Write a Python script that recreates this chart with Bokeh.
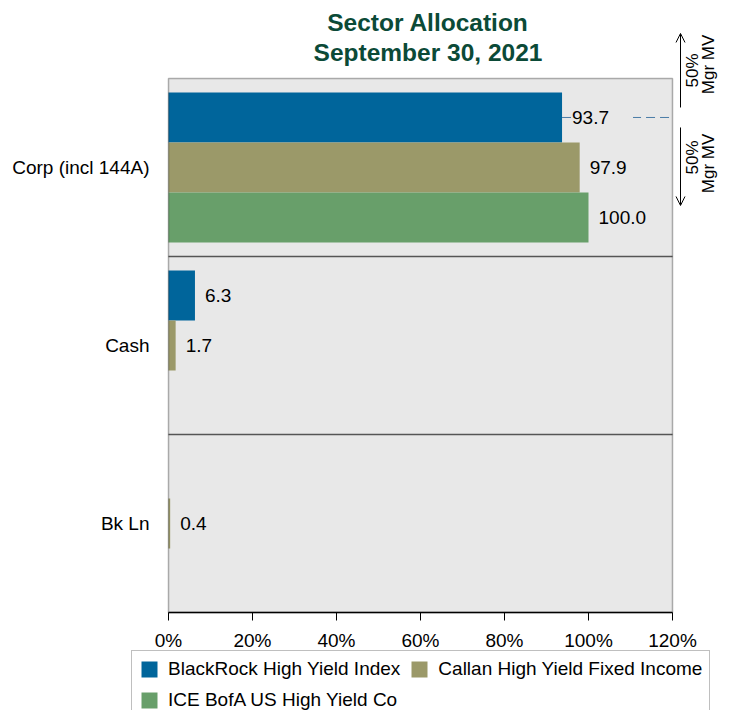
from bokeh.plotting import figure
from bokeh.models import (Range1d, FixedTicker, Legend, LegendItem, ColumnDataSource,
                          Arrow, OpenHead, Label, BoxAnnotation)
from bokeh.core.properties import value
from bokeh.embed import file_html
from bokeh.resources import INLINE
import math

# ---------------- data ----------------
categories = ["Corp (incl 144A)", "Cash", "Bk Ln"]
series_names = ["BlackRock High Yield Index",
                "Callan High Yield Fixed Income",
                "ICE BofA US High Yield Co"]
blackrock = [93.7, 6.3, 0.0]
callan = [97.9, 1.7, 0.4]
ice_bofa = [100.0, 0.0, 0.0]
series_colors = ["#00659b", "#9b9969", "#689f6a"]
x_ticks = [0, 20, 40, 60, 80, 100, 120]
x_tick_labels = ["0%", "20%", "40%", "60%", "80%", "100%", "120%"]
title_lines = ["Sector Allocation", "September 30, 2021"]
mgr_texts = ["50%", "Mgr MV"]

# ---------------- style / layout (canvas pixels) ----------------
FONT = "Liberation Sans"
FS = "19px"
TITLE_COLOR = "#0b4a37"
BG = "#e8e8e8"
W, H = 720, 710
L, R, TOP, BOT = 168, 672, 78, 612          # grey plot box on the canvas

n = len(categories)
XMIN, XMAX = x_ticks[0], x_ticks[-1]
xs = (XMAX - XMIN) / (R - L)                 # data units per pixel (x)
ys = n / (BOT - TOP)                         # data units per pixel (y)


def dx(px):
    return XMIN + (px - L) * xs


def dy(px):
    return (BOT - px) * ys


p = figure(width=W, height=H, output_backend="svg", toolbar_location=None,
           x_range=Range1d(dx(0), dx(W)), y_range=Range1d(dy(H), dy(0)),
           min_border=0, background_fill_color="white", border_fill_color="white")
p.outline_line_color = None
p.xgrid.grid_line_color = None
p.ygrid.grid_line_color = None

# grey plot area
p.add_layout(BoxAnnotation(left=XMIN, right=XMAX, bottom=0, top=n, fill_color=BG,
                           fill_alpha=1, line_color=None, level="underlay"))

# category positions (top to bottom)
cat_pos = [n - 0.5 - i for i in range(n)]
bar_h = 0.281
offsets = [bar_h, 0.0, -bar_h]
series = [blackrock, callan, ice_bofa]

# axes
p.xaxis.fixed_location = 0
p.xaxis.bounds = (XMIN, XMAX)
p.xaxis.ticker = FixedTicker(ticks=x_ticks)
p.xaxis.major_label_overrides = {t: l for t, l in zip(x_ticks, x_tick_labels)}
p.xaxis.minor_tick_line_color = None
p.xaxis.major_tick_out = 8
p.xaxis.major_tick_in = 0
p.xaxis.major_tick_line_color = "black"
p.xaxis.axis_line_color = "black"
p.xaxis.axis_line_width = 1.5
p.xaxis.major_label_text_font = FONT
p.xaxis.major_label_text_font_size = FS
p.xaxis.major_label_text_color = "black"
p.xaxis.major_label_standoff = 9

p.yaxis.fixed_location = XMIN
p.yaxis.bounds = (0, n)
p.yaxis.ticker = FixedTicker(ticks=cat_pos)
p.yaxis.major_label_overrides = {pos: c for pos, c in zip(cat_pos, categories)}
p.yaxis.major_tick_line_color = None
p.yaxis.minor_tick_line_color = None
p.yaxis.axis_line_color = None
p.yaxis.major_label_text_font = FONT
p.yaxis.major_label_text_font_size = FS
p.yaxis.major_label_text_color = "black"
p.yaxis.major_label_standoff = 13

# separators between categories
sep_y = [float(i) for i in range(1, n)]
p.segment(x0=[XMIN] * len(sep_y), x1=[XMAX] * len(sep_y), y0=sep_y, y1=sep_y,
          line_color="#555555", line_width=1.5)

# bars
renderers = []
for i, (vals, col) in enumerate(zip(series, series_colors)):
    s = ColumnDataSource(dict(y=[c + offsets[i] for c in cat_pos], v=vals))
    renderers.append(p.hbar(y="y", left=0, right="v", height=bar_h,
                            fill_color=col, line_color=None, source=s))

# dashed marker line at BlackRock corp level
y_mark = cat_pos[0] + offsets[0]
p.segment(x0=[blackrock[0]], x1=[XMAX], y0=[y_mark], y1=[y_mark],
          line_color="#4a7ca6", line_width=1, line_dash="9 5")

# value labels
for i, vals in enumerate(series):
    keep = [(c + offsets[i], v) for c, v in zip(cat_pos, vals) if v > 0]
    lsrc = ColumnDataSource(dict(y=[k[0] for k in keep], v=[k[1] for k in keep],
                                 t=[f"{k[1]:.1f}" for k in keep]))
    p.text(x="v", y="y", text="t", source=lsrc,
           x_offset=10, text_align="left", text_baseline="middle",
           text_font=value(FONT), text_font_size=FS, text_color="black",
           background_fill_color=BG,
           padding=dict(left=0, right=24, top=2, bottom=2))

# black outline of plot area (on top)
p.add_layout(BoxAnnotation(left=XMIN, right=XMAX, bottom=0, top=n, fill_color=None,
                           line_color="black", line_width=1.5, level="overlay"))

# arrows + "50% Mgr MV" texts to the right of the plot
ax = dx(R + 8)
p.add_layout(Arrow(end=OpenHead(size=9, line_width=1, line_color="black"),
                   x_start=ax, y_start=y_mark + 10 * ys, x_end=ax, y_end=y_mark + 84 * ys,
                   line_color="black", line_width=1))
p.add_layout(Arrow(end=OpenHead(size=9, line_width=1, line_color="black"),
                   x_start=ax, y_start=y_mark - 10 * ys, x_end=ax, y_end=y_mark - 88 * ys,
                   line_color="black", line_width=1))
for dys in [(47, 53), (-40, -46)]:
    for txt, xx, d in zip(mgr_texts, [R + 20, R + 36], dys):
        p.add_layout(Label(x=dx(xx), y=y_mark + d * ys, text=txt, angle=math.pi / 2,
                           text_align="center", text_baseline="middle",
                           text_font=FONT, text_font_size="17px", text_color="black"))

# title
for txt, base in zip(title_lines, [22, 52]):
    p.add_layout(Label(x=dx(427.5), y=dy(base), text=txt, text_align="center",
                       text_baseline="alphabetic", text_font=FONT, text_font_size="24.5px",
                       text_font_style="bold", text_color=TITLE_COLOR))

# legend
legend = Legend(items=[LegendItem(label=nm, renderers=[r]) for nm, r in zip(series_names, renderers)],
                location=(131, -9), orientation="horizontal", ncols=2,
                label_text_font=FONT, label_text_font_size=FS, label_text_color="black",
                glyph_width=20, glyph_height=20, label_height=20, label_standoff=9,
                padding=7, spacing=9, margin=0,
                border_line_color="#7f7f7f", border_line_width=1,
                background_fill_color="white", background_fill_alpha=1.0)
p.add_layout(legend, "center")

open("out.html", "w").write(file_html(p, INLINE))
